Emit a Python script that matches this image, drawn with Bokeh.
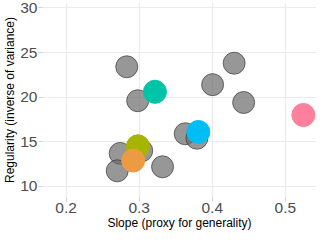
from bokeh.plotting import figure
from bokeh.models import ColumnDataSource, Range1d, FixedTicker
from bokeh.embed import file_html
from bokeh.resources import INLINE

# Data
grey_slope = [0.283, 0.298, 0.430, 0.4005, 0.443, 0.363, 0.379, 0.332, 0.274, 0.270, 0.3035]
grey_reg = [23.4, 19.6, 23.8, 21.4, 19.4, 15.9, 15.4, 12.2, 13.7, 11.75, 14.0]

hl_slope = [0.3216, 0.381, 0.5247, 0.2983, 0.2918]
hl_reg = [20.6, 16.1, 18.0, 14.5, 12.9]
hl_color = ["#00C4A7", "#00BEF5", "#FF809D", "#A8B500", "#ED9B42"]

x_ticks = [0.2, 0.3, 0.4, 0.5]
y_ticks = [10, 15, 20, 25, 30]

FONT = "Liberation Sans"

p = figure(width=316, height=232, output_backend="svg", toolbar_location=None,
           x_range=Range1d(0.1677, 0.5427), y_range=Range1d(8.76, 30.6),
           min_border_right=0, min_border_top=2, min_border_left=0, min_border_bottom=0)
p.outline_line_color = None
p.background_fill_color = "white"
p.border_fill_color = "white"

grey_src = ColumnDataSource(dict(x=grey_slope, y=grey_reg))
p.scatter("x", "y", source=grey_src, size=22, fill_color="#6B6B6B", fill_alpha=0.7,
          line_color="#3A3A3A", line_alpha=0.7, line_width=1)

hl_src = ColumnDataSource(dict(x=hl_slope, y=hl_reg, c=hl_color))
p.scatter("x", "y", source=hl_src, size=23, fill_color="c", line_color="c", fill_alpha=1.0)

p.xaxis.ticker = FixedTicker(ticks=x_ticks)
p.yaxis.ticker = FixedTicker(ticks=y_ticks)
p.xaxis.axis_label = "Slope (proxy for generality)"
p.yaxis.axis_label = "Regularity (inverse of variance)"

for ax in (p.xaxis, p.yaxis):
    ax.axis_line_color = None
    ax.major_tick_line_color = "#D0D0D0"
    ax.major_tick_out = 4
    ax.major_tick_in = 0
    ax.minor_tick_line_color = None
    ax.major_label_text_font = FONT
    ax.major_label_text_font_size = "15.5px"
    ax.major_label_text_color = "#4D4D4D"
    ax.major_label_standoff = 1
    ax.axis_label_text_font = FONT
    ax.axis_label_text_font_size = "12px"
    ax.axis_label_text_font_style = "normal"
    ax.axis_label_text_color = "black"
    ax.axis_label_standoff = 0

p.xgrid.grid_line_color = "#EBEBEB"
p.ygrid.grid_line_color = "#EBEBEB"
p.xgrid.grid_line_width = 1.2
p.ygrid.grid_line_width = 1.2

open("out.html", "w").write(file_html(p, INLINE))
